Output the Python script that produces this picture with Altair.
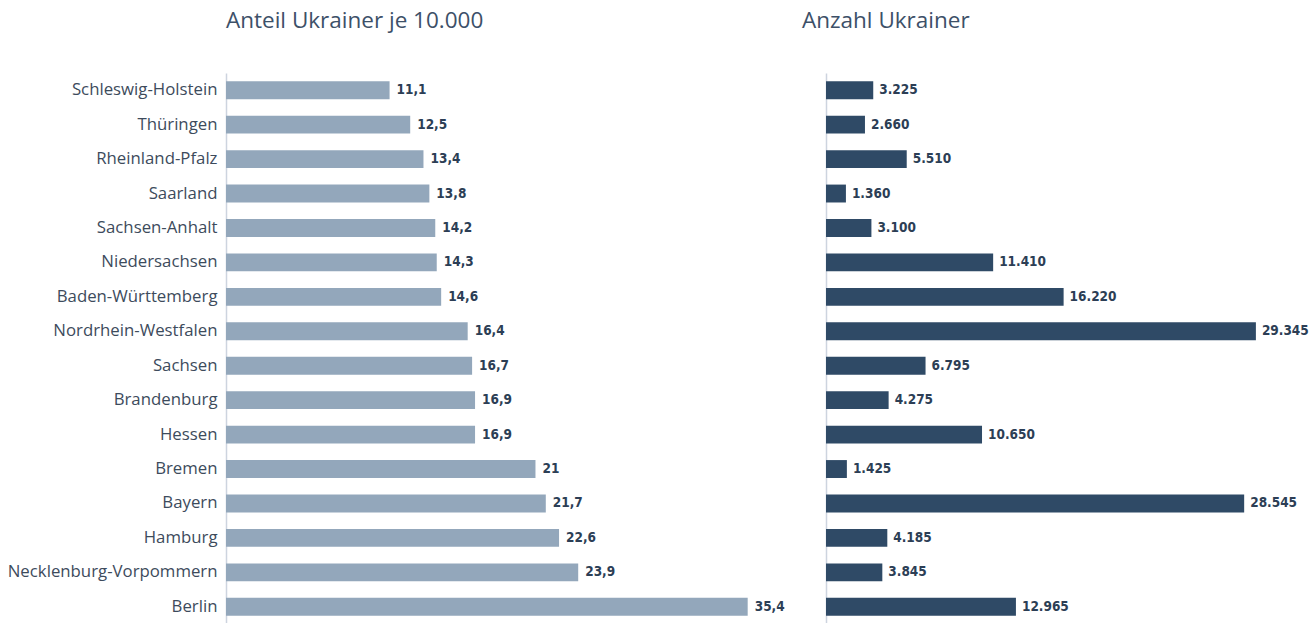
import altair as alt
import pandas as pd

states = ["Schleswig-Holstein", "Thüringen", "Rheinland-Pfalz", "Saarland", "Sachsen-Anhalt",
          "Niedersachsen", "Baden-Württemberg", "Nordrhein-Westfalen", "Sachsen", "Brandenburg",
          "Hessen", "Bremen", "Bayern", "Hamburg", "Necklenburg-Vorpommern", "Berlin"]
share = [11.1, 12.5, 13.4, 13.8, 14.2, 14.3, 14.6, 16.4, 16.7, 16.9, 16.9, 21.0, 21.7, 22.6, 23.9, 35.4]
count = [3225, 2660, 5510, 1360, 3100, 11410, 16220, 29345, 6795, 4275, 10650, 1425, 28545, 4185, 3845, 12965]


def fmt_share(v):
    s = f"{v:.1f}".replace(".", ",")
    return s[:-2] if s.endswith(",0") else s


df = pd.DataFrame({
    "state": states,
    "share": share,
    "count": count,
    "share_lbl": [fmt_share(v) for v in share],
    "count_lbl": [f"{v:,}".replace(",", ".") for v in count],
})

H = 551
LABEL_FONT = "Open Sans"
VAL_FONT = "DejaVu Sans Condensed, Roboto Condensed, Roboto, sans-serif"
y_scale = alt.Scale(domain=states, paddingInner=0.48, paddingOuter=0.24)

left_base = alt.Chart(df).encode(
    y=alt.Y("state:N", sort=states, scale=y_scale,
            axis=alt.Axis(title=None, ticks=False, labelPadding=9, domainColor="#cdd4df",
                          domainWidth=1.5, labelColor="#3d4b5c", labelFont=LABEL_FONT,
                          labelFontSize=16.8, minExtent=216, maxExtent=216, labelLimit=300)),
)
left_bars = left_base.mark_bar(color="#93a7bb").encode(
    x=alt.X("share:Q", scale=alt.Scale(domain=[0, 38], nice=False), axis=None))
left_text = left_base.mark_text(align="left", baseline="middle", dx=7, font=VAL_FONT,
                                fontWeight="bold", fontSize=13.5, color="#2c3e55").encode(
    x="share:Q", text="share_lbl:N")
left = (left_bars + left_text).properties(
    width=560, height=H,
    title=alt.TitleParams("Anteil Ukrainer je 10.000", anchor="start", frame="group", fontSize=22.5,
                          font=LABEL_FONT, fontWeight="normal", color="#3d5068", offset=41))

right_base = alt.Chart(df).encode(
    y=alt.Y("state:N", sort=states, scale=y_scale,
            axis=alt.Axis(title=None, ticks=False, labels=False, domainColor="#cdd4df",
                          domainWidth=1.5)),
)
right_bars = right_base.mark_bar(color="#2f4a66").encode(
    x=alt.X("count:Q", scale=alt.Scale(domain=[0, 31400], nice=False), axis=None))
right_text = right_base.mark_text(align="left", baseline="middle", dx=6, font=VAL_FONT,
                                  fontWeight="bold", fontSize=13.5, color="#2c3e55").encode(
    x="count:Q", text="count_lbl:N")
right = (right_bars + right_text).properties(
    width=460, height=H,
    title=alt.TitleParams("Anzahl Ukrainer", anchor="start", frame="group", fontSize=22.5, dx=-24,
                          font=LABEL_FONT, fontWeight="normal", color="#3d5068", offset=41))

chart = alt.hconcat(left, right, spacing=16).properties(
    padding={"left": 7, "top": 9, "right": 0, "bottom": 0}
).configure_view(stroke=None).configure_concat(spacing=16)

chart.save("out.html", embed_options={"renderer": "svg", "actions": False})
